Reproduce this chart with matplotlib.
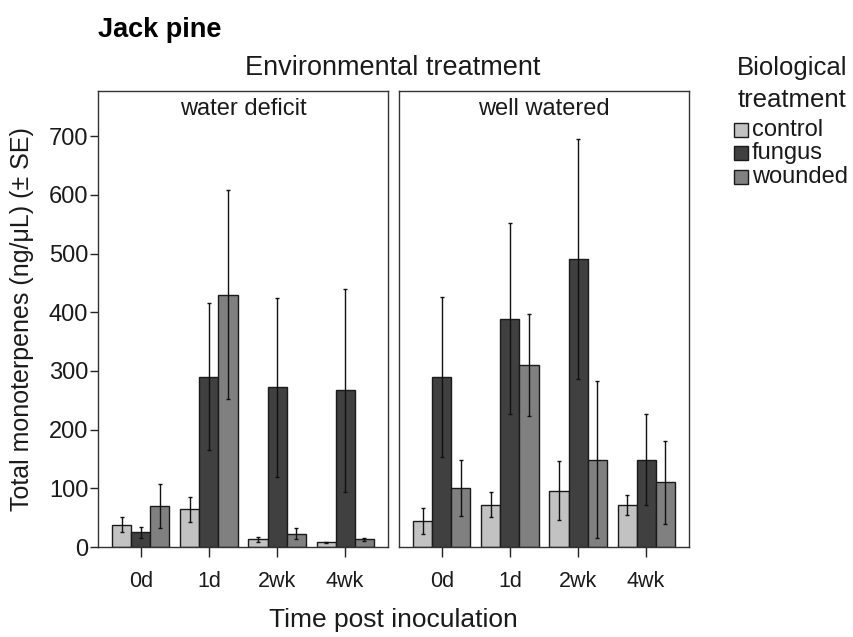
import numpy as np
import matplotlib.pyplot as plt
from matplotlib.patches import Rectangle

plt.rcParams['font.family'] = ['Liberation Sans', 'DejaVu Sans']

times = ["0d", "1d", "2wk", "4wk"]
treatments = ["control", "fungus", "wounded"]
panels = ["water deficit", "well watered"]

# means and SE, rows = treatment, cols = time
wd_mean = [[38, 64, 13, 8],
           [25, 290, 272, 267],
           [70, 430, 23, 13]]
wd_se = [[13, 22, 4, 1],
         [9, 125, 152, 173],
         [37, 178, 9, 2]]
ww_mean = [[45, 72, 96, 72],
           [290, 389, 491, 149],
           [101, 310, 149, 110]]
ww_se = [[22, 21, 50, 17],
         [136, 163, 205, 77],
         [48, 87, 134, 70]]

colors = ["#c2c2c2", "#404040", "#808080"]
ink = "#1a1a1a"
W, H = 854, 637


def px_axes(fig, x0, y0, x1, y1):
    return fig.add_axes([x0 / W, 1 - y1 / H, (x1 - x0) / W, (y1 - y0) / H])


def fx(px):
    return px / W


def fy(py):
    return 1 - py / H


fig = plt.figure(figsize=(W / 100, H / 100), dpi=100)
ax_l = px_axes(fig, 98, 91, 388, 547)
ax_r = px_axes(fig, 399, 91, 689, 547)

x = np.arange(1, len(times) + 1)
bw = 0.28
for ax, means, ses, title in [(ax_l, wd_mean, wd_se, panels[0]),
                              (ax_r, ww_mean, ww_se, panels[1])]:
    for i, (m, s) in enumerate(zip(means, ses)):
        ax.bar(x + (i - 1) * bw, m, bw, color=colors[i], edgecolor=ink,
               linewidth=1.0, yerr=s, capsize=1.6,
               error_kw=dict(elinewidth=1.0, ecolor="#111111", capthick=1.0))
    ax.set_xlim(0.37, 4.63)
    ax.set_ylim(0, 777)
    ax.set_xticks(x)
    ax.set_xticklabels(times, fontsize=15.5)
    ax.text(0.5, 1 - 18 / 456, title, transform=ax.transAxes, ha="center", va="center",
            fontsize=17, color=ink)
    for sp in ax.spines.values():
        sp.set_color("#333333")
        sp.set_linewidth(1.0)
    ax.tick_params(axis="x", length=7, width=1, color="#222222", labelcolor=ink, pad=10)

ax_l.set_yticks(np.arange(0, 701, 100))
ax_l.tick_params(axis="y", length=6, width=1, labelsize=17, color="#222222", labelcolor=ink, pad=1)
ax_r.set_yticks([])
ax_l.set_ylabel("Total monoterpenes (ng/\u03bcL) (\u00b1 SE)", fontsize=18, color=ink)
ax_l.yaxis.set_label_coords(-64 / 290, 0.5)

fig.text(fx(98), fy(30), "Jack pine", fontsize=19.5, fontweight="bold", ha="left", va="center")
fig.text(fx(393), fy(68), "Environmental treatment", fontsize=19.5, ha="center", va="center", color=ink)
fig.text(fx(393), fy(620), "Time post inoculation", fontsize=19, ha="center", va="center", color=ink)

# legend, drawn by hand so the spacing follows the original
fig.text(fx(792), fy(68), "Biological", fontsize=18.5, ha="center", va="center", color=ink)
fig.text(fx(792), fy(100), "treatment", fontsize=18.5, ha="center", va="center", color=ink)
for i, (c, t) in enumerate(zip(colors, treatments)):
    yc = 130 + i * 23.5
    fig.add_artist(Rectangle((fx(734), fy(yc + 7)), 14 / W, 14 / H, transform=fig.transFigure,
                             facecolor=c, edgecolor=ink, linewidth=1.0))
    fig.text(fx(752), fy(yc), t, fontsize=17, ha="left", va="center", color=ink)

fig.savefig("out.png", dpi=100)
